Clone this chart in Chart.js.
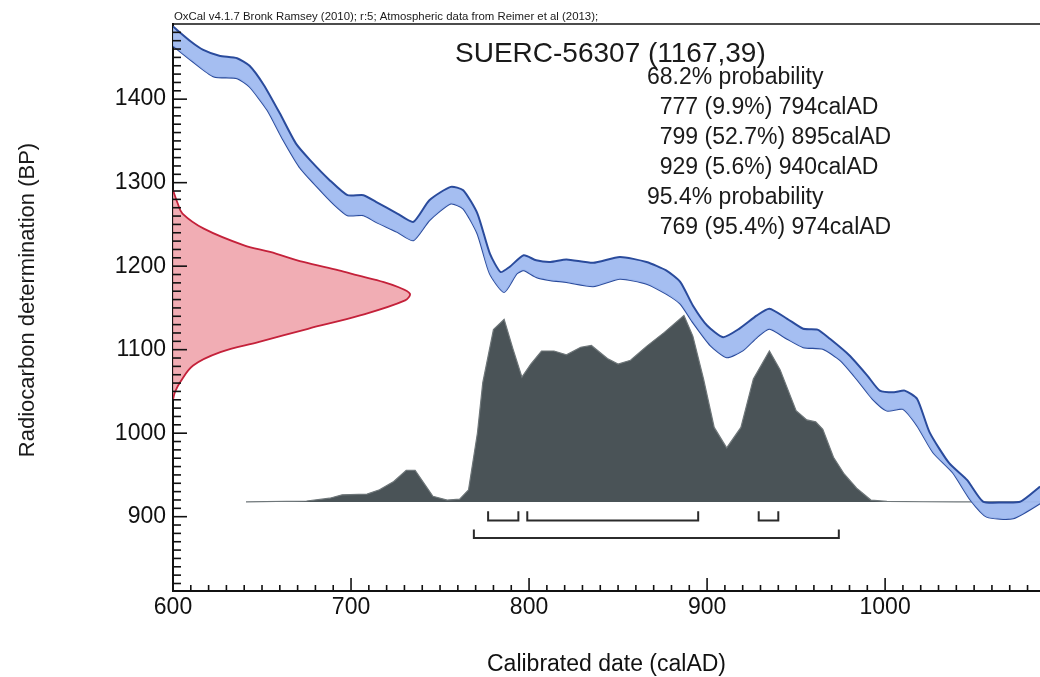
<!DOCTYPE html>
<html>
<head>
<meta charset="utf-8">
<title>SUERC-56307 calibration</title>
<script src="https://cdn.jsdelivr.net/npm/chart.js@4.4.0/dist/chart.umd.min.js"></script>
<style>
  html, body { margin: 0; padding: 0; background: #fff; }
  #wrap { width: 1040px; height: 677px; }
</style>
</head>
<body>
<div id="wrap"><canvas id="oxcalChart" width="1040" height="677"></canvas></div>
<script>

/* Data */

// Calibration curve, upper edge of the band (calAD / BP)
const curveUpperYears = [600, 610, 617, 626, 636, 643, 651, 660, 669, 677, 688, 698, 707, 714, 726, 735, 744, 756, 763, 771,
    778, 784, 789, 797, 804, 812, 821, 836, 851, 866, 877, 885, 892, 900, 909, 918, 928, 935, 945, 954,
    962, 969, 980, 990, 997, 1005, 1011, 1018, 1025, 1036, 1046, 1055, 1066, 1076, 1087];
const curveUpperBP = [1487, 1469, 1459, 1452, 1449, 1440, 1417, 1383, 1347, 1327, 1303, 1285, 1285, 1277, 1263, 1253, 1279, 1295, 1291, 1263,
    1215, 1193, 1199, 1213, 1207, 1205, 1208, 1204, 1211, 1205, 1195, 1181, 1153, 1129, 1115, 1125, 1141, 1149, 1137, 1125,
    1124, 1113, 1093, 1069, 1051, 1049, 1051, 1041, 1001, 964, 944, 918, 917, 918, 936];

// Calibration curve, lower edge of the band
const curveLowerYears = [600, 610, 623, 636, 643, 653, 662, 671, 681, 690, 698, 707, 714, 726, 735, 744, 756, 763, 771, 778,
    786, 793, 797, 804, 812, 821, 836, 851, 866, 877, 885, 892, 902, 911, 920, 928, 935, 945, 954, 965,
    975, 984, 993, 1001, 1010, 1018, 1027, 1038, 1048, 1057, 1072, 1087];
const curveLowerBP = [1464, 1447, 1427, 1425, 1415, 1387, 1351, 1319, 1295, 1275, 1261, 1261, 1253, 1241, 1231, 1255, 1275, 1269, 1239, 1191,
    1169, 1191, 1195, 1187, 1183, 1181, 1176, 1185, 1179, 1167, 1155, 1133, 1105, 1091, 1099, 1115, 1125, 1113, 1103, 1101,
    1087, 1065, 1041, 1027, 1029, 1009, 977, 953, 920, 900, 898, 916];

// Radiocarbon measurement (1167 ± 39 BP) drawn on the BP axis, relative density
const measureBP = [1291, 1275, 1263, 1245, 1225, 1217, 1205, 1195, 1189, 1181, 1175, 1167, 1159, 1141, 1125, 1109, 1097, 1081, 1061, 1049, 1040];
const measureDensity = [0, 0.02, 0.04, 0.13, 0.30, 0.41, 0.55, 0.70, 0.78, 0.89, 0.95, 1.0, 0.98, 0.79, 0.57, 0.36, 0.20, 0.085, 0.03, 0.008, 0];

// Calibrated date distribution, relative probability
const posteriorYears = [641, 675, 688, 695, 709, 716, 724, 731, 736, 741, 746, 754, 761, 766, 771, 774, 780, 786, 791, 796,
    801, 807, 814, 821, 829, 835, 844, 850, 857, 866, 876, 887, 892, 898, 904, 911, 919, 926, 935, 941,
    950, 956, 961, 965, 971, 977, 984, 992, 1001, 1021, 1040, 1087];
const posteriorProb = [0, 0.005, 0.02, 0.038, 0.042, 0.065, 0.11, 0.17, 0.17, 0.10, 0.03, 0.01, 0.015, 0.065, 0.37, 0.64, 0.925, 0.98, 0.82, 0.67,
    0.74, 0.81, 0.81, 0.79, 0.83, 0.84, 0.77, 0.74, 0.76, 0.835, 0.91, 1.0, 0.89, 0.66, 0.40, 0.29, 0.40, 0.66, 0.81, 0.71,
    0.49, 0.44, 0.43, 0.39, 0.24, 0.15, 0.074, 0.01, 0.003, 0.001, 0, 0];

// Highest probability ranges: start, end, share
const rangeStart68 = [777, 799, 929];
const rangeEnd68 = [794, 895, 940];
const rangePct68 = ['9.9', '52.7', '5.6'];
const rangeStart95 = [769];
const rangeEnd95 = [974];
const rangePct95 = ['95.4'];

// Tick labels
const xTickValues = [600, 700, 800, 900, 1000];
const yTickValues = [900, 1000, 1100, 1200, 1300, 1400];

// Texts
const calibrationNote = 'OxCal v4.1.7 Bronk Ramsey (2010); r:5; Atmospheric data from Reimer et al (2013);';
const sampleName = 'SUERC-56307 (1167,39)';
const xTitle = 'Calibrated date (calAD)';
const yTitle = 'Radiocarbon determination (BP)';

const FONT = '"Liberation Sans", Arial, Helvetica, sans-serif';


/* Helpers */

// Pair two arrays into {x, y} points.
function xyPoints(xs, ys) {
    return xs.map((x, i) => ({ x: x, y: ys[i] }));
}

// Build the text lines shown at the top right.
function rangeLines() {
    const lines = ['68.2% probability'];
    rangeStart68.forEach((s, i) => lines.push('  ' + s + ' (' + rangePct68[i] + '%) ' + rangeEnd68[i] + 'calAD'));
    lines.push('95.4% probability');
    rangeStart95.forEach((s, i) => lines.push('  ' + s + ' (' + rangePct95[i] + '%) ' + rangeEnd95[i] + 'calAD'));
    return lines;
}

// One bracket under the distribution, in calAD / relative probability units.
function bracketDataset(start, end, low, high) {
    return {
        data: [{ x: start, y: high }, { x: start, y: low }, { x: end, y: low }, { x: end, y: high }],
        xAxisID: 'x',
        yAxisID: 'yp',
        borderColor: '#2b2b2b',
        borderWidth: 2,
        tension: 0,
        fill: false
    };
}


/* Plugin: inward ticks, frame line and the texts */

const oxcalDecor = {
    id: 'oxcalDecor',
    afterDatasetsDraw(chart) {
        const { ctx, chartArea, scales } = chart;
        const xs = scales.x, ys = scales.y;
        ctx.save();
        ctx.strokeStyle = '#111';
        ctx.lineWidth = 1.6;

        // x axis ticks every 10 years, pointing up
        for (let v = 610; v < xs.max; v += 10) {
            const px = xs.getPixelForValue(v);
            const len = v % 100 === 0 ? 13 : 6;
            ctx.beginPath();
            ctx.moveTo(px, chartArea.bottom);
            ctx.lineTo(px, chartArea.bottom - len);
            ctx.stroke();
        }
        // y axis ticks every 10 BP, pointing right
        for (let v = 820; v < ys.max; v += 10) {
            const py = ys.getPixelForValue(v);
            const len = v % 100 === 0 ? 14 : 8;
            ctx.beginPath();
            ctx.moveTo(chartArea.left, py);
            ctx.lineTo(chartArea.left + len, py);
            ctx.stroke();
        }

        // top frame line
        ctx.lineWidth = 1.5;
        ctx.beginPath();
        ctx.moveTo(chartArea.left, chartArea.top);
        ctx.lineTo(chartArea.right, chartArea.top);
        ctx.stroke();
        ctx.restore();
    },
    afterDraw(chart) {
        const ctx = chart.ctx;
        ctx.save();
        ctx.fillStyle = '#1a1a1a';
        ctx.textBaseline = 'alphabetic';
        ctx.textAlign = 'left';

        ctx.font = '11.4px ' + FONT;
        ctx.fillText(calibrationNote, 174, 20);

        ctx.font = '28px ' + FONT;
        ctx.fillText(sampleName, 455, 62);

        ctx.font = '23px ' + FONT;
        rangeLines().forEach((line, i) => ctx.fillText(line, 647, 84 + i * 30));

        // y axis title, rotated
        ctx.translate(28, 300);
        ctx.rotate(-Math.PI / 2);
        ctx.textAlign = 'center';
        ctx.textBaseline = 'middle';
        ctx.font = '22px ' + FONT;
        ctx.fillText(yTitle, 0, 0);
        ctx.restore();
    }
};


/* Chart */

function createChart() {
    const canvas = document.getElementById('oxcalChart');

    const datasets = [
        {   // calibration band, upper edge, filled down to the lower edge
            data: xyPoints(curveUpperYears, curveUpperBP),
            xAxisID: 'x', yAxisID: 'y',
            borderColor: '#2a4b9c',
            borderWidth: 2,
            backgroundColor: 'rgba(160, 186, 240, 0.95)',
            fill: '+1',
            tension: 0.2
        },
        {   // calibration band, lower edge
            data: xyPoints(curveLowerYears, curveLowerBP),
            xAxisID: 'x', yAxisID: 'y',
            borderColor: '#2a4b9c',
            borderWidth: 2,
            fill: false,
            tension: 0.2
        },
        {   // measurement
            data: xyPoints(measureDensity, measureBP),
            xAxisID: 'xd', yAxisID: 'y',
            borderColor: '#c4213a',
            borderWidth: 1.8,
            backgroundColor: 'rgba(240, 164, 172, 0.9)',
            fill: 'shape',
            tension: 0.35
        },
        {   // calibrated distribution
            data: xyPoints(posteriorYears, posteriorProb),
            xAxisID: 'x', yAxisID: 'yp',
            borderColor: '#6e7679',
            borderWidth: 1.2,
            backgroundColor: '#4a5357',
            fill: 'origin',
            tension: 0
        }
    ];

    // brackets for the ranges
    rangeStart68.forEach((s, i) => datasets.push(bracketDataset(s, rangeEnd68[i], -0.10, -0.05)));
    rangeStart95.forEach((s, i) => datasets.push(bracketDataset(s, rangeEnd95[i], -0.194, -0.148)));

    const xAxis = axisOptions(600, 1087, xTickValues, 3, s => { s.height = 86; });
    xAxis.title = {
        display: true,
        text: xTitle,
        color: '#111',
        font: { family: FONT, size: 23, lineHeight: 1 },
        padding: { top: 0, bottom: 1 }
    };
    const yAxis = axisOptions(811, 1490, yTickValues, 7, s => { s.width = 173; });

    new Chart(canvas, {
        type: 'line',
        data: { datasets: datasets },
        options: {
            responsive: false,
            animation: false,
            devicePixelRatio: 1,
            layout: { padding: { top: 24, right: 0, bottom: 0, left: 0 } },
            elements: { point: { radius: 0 } },
            plugins: {
                legend: { display: false },
                tooltip: { enabled: false },
                title: { display: false }
            },
            scales: {
                x: xAxis,
                y: yAxis,
                xd: { type: 'linear', display: false, min: 0, max: 3.66 },
                yp: { type: 'linear', display: false, min: -0.478, max: 2.565 }
            }
        },
        plugins: [oxcalDecor]
    });
}

// Shared settings for the two visible axes.
function axisOptions(min, max, tickValues, labelPadding, fit) {
    return {
        type: 'linear',
        min: min,
        max: max,
        bounds: 'data',
        grid: { display: false, drawTicks: false },
        border: { display: true, color: '#111', width: 2 },
        ticks: {
            color: '#111',
            font: { family: FONT, size: 23 },
            padding: labelPadding,
            autoSkip: false,
            maxRotation: 0,
            includeBounds: false,
            callback: value => String(value)
        },
        afterBuildTicks: scale => { scale.ticks = tickValues.map(v => ({ value: v })); },
        afterFit: fit
    };
}

document.addEventListener('DOMContentLoaded', createChart);
</script>
</body>
</html>
